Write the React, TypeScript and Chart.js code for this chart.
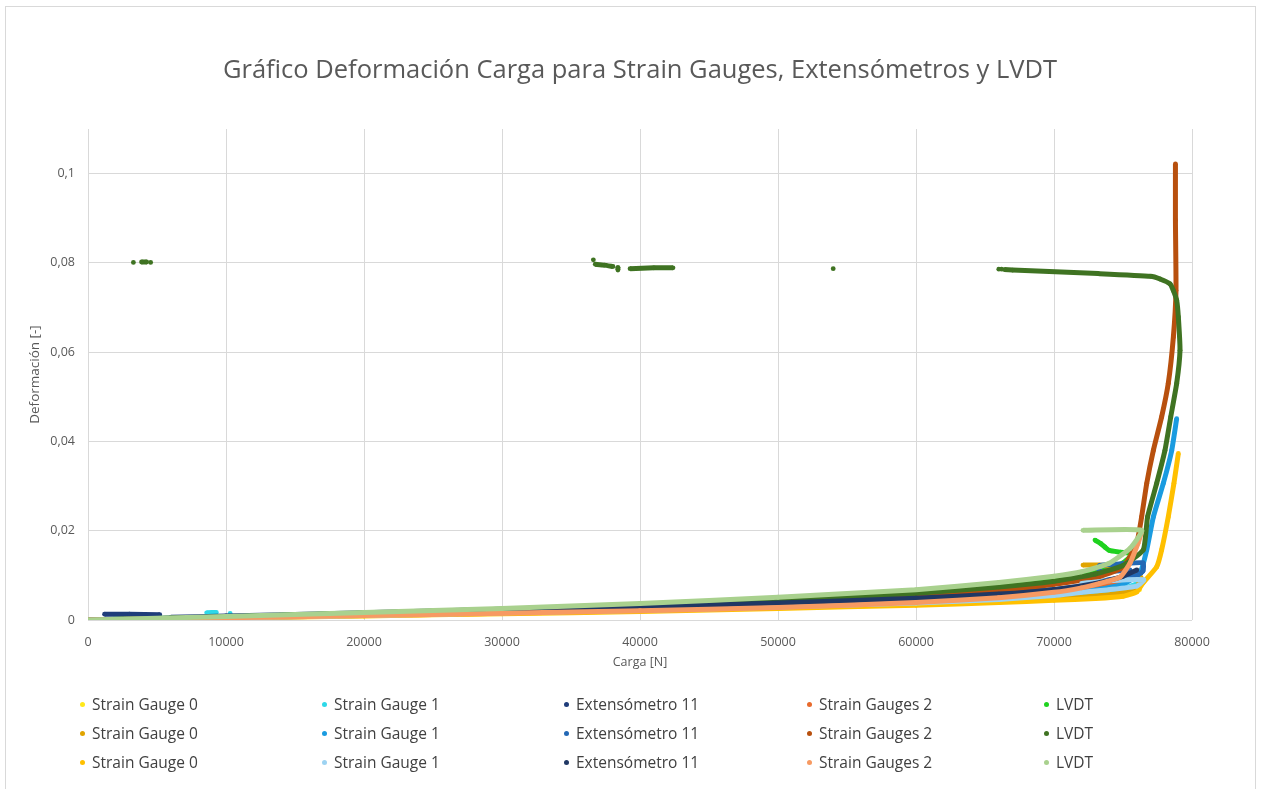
import React, { useEffect, useRef } from "react";
import { Chart, registerables } from "chart.js";

Chart.register(...registerables);

type P = [number, number] | null;

const chartTitle = "Gráfico Deformación Carga para Strain Gauges, Extensómetros y LVDT";
const xAxisTitle = "Carga [N]";
const yAxisTitle = "Deformación [-]";

const xTickValues = [0, 10000, 20000, 30000, 40000, 50000, 60000, 70000, 80000];
const yTickValues = [0, 0.02, 0.04, 0.06, 0.08, 0.1];

const seriesNames = [
  "Strain Gauge 0", "Strain Gauge 1", "Extensómetro 11", "Strain Gauges 2", "LVDT",
  "Strain Gauge 0", "Strain Gauge 1", "Extensómetro 11", "Strain Gauges 2", "LVDT",
  "Strain Gauge 0", "Strain Gauge 1", "Extensómetro 11", "Strain Gauges 2", "LVDT",
];

const seriesColors = [
  "#FFE81A", "#2ED8E8", "#1F3D7A", "#E86A2C", "#1FD21F",
  "#E0A400", "#1A9BE0", "#2368B5", "#B8500E", "#3F7322",
  "#FFC000", "#9DD3F2", "#203864", "#F79A62", "#A9D18E",
];

const strainGauge0A: P[] = [[0, 0], [10000, 0.0005], [20000, 0.0011], [30000, 0.0016], [40000, 0.0022], [50000, 0.0029], [60000, 0.0036], [66000, 0.0042], [70000, 0.0047], [73000, 0.0052], [75000, 0.0058], [76200, 0.0068]];
const strainGauge1A: P[] = [[0, 0], [5000, 0.0003], [8000, 0.0005], null, [8600, 0.0016], [9000, 0.0017], [9300, 0.0017], null, [10300, 0.0015], null, [11000, 0.0007], [20000, 0.0012], [30000, 0.0017], [40000, 0.0023], [50000, 0.003], [60000, 0.0038], [66000, 0.0045], [70000, 0.0052], [73000, 0.006], [75000, 0.007], [76400, 0.0085]];
const extensometro11A: P[] = [[0, 0], null, [1200, 0.0013], [3000, 0.0013], [5200, 0.0012], null, [6000, 0.0006], [10000, 0.0009], [20000, 0.0016], [30000, 0.0024], [40000, 0.0032], [50000, 0.0041], [60000, 0.0051], [66000, 0.006], [70000, 0.0068], [73000, 0.0078], [75000, 0.009], [76300, 0.0105]];
const strainGauges2A: P[] = [[0, 0], [10000, 0.0006], [20000, 0.0012], [30000, 0.0019], [40000, 0.0026], [50000, 0.0035], [60000, 0.0046], [66000, 0.0055], [70000, 0.0064], [73000, 0.0075], [75000, 0.009], [76200, 0.011]];
const lvdtA: P[] = [[0, 0], [10000, 0.0007], [20000, 0.0015], [30000, 0.0024], [40000, 0.0034], [50000, 0.0046], [60000, 0.0062], [66000, 0.0076], [70000, 0.0089], [72000, 0.0099], [74000, 0.0115], [75000, 0.0128], [75700, 0.0148], [74800, 0.0152], [74000, 0.0156], [73700, 0.0163], [73400, 0.0171], [72970, 0.0179]];

const strainGauge0B: P[] = [[0, 0], [10000, 0.0005], [20000, 0.001], [30000, 0.0015], [40000, 0.0021], [50000, 0.0028], [60000, 0.0035], [66000, 0.0041], [70000, 0.0047], [73000, 0.0054], [75000, 0.0062], [76000, 0.0075], [76300, 0.0095], [75000, 0.0115], [73300, 0.0123], [72100, 0.0123]];
const strainGauge1B: P[] = [[0, 0], [10000, 0.0005], [20000, 0.0011], [30000, 0.0017], [40000, 0.0024], [50000, 0.0032], [60000, 0.0041], [66000, 0.0049], [70000, 0.0057], [73000, 0.0067], [75000, 0.008], [76230, 0.0105], [76720, 0.0157], [77200, 0.0231], [77920, 0.0306], [78530, 0.038], [78890, 0.0451]];
const extensometro11B: P[] = [[0, 0], [10000, 0.0007], [20000, 0.0014], [30000, 0.0022], [40000, 0.0029], [50000, 0.0038], [60000, 0.0048], [66000, 0.0058], [70000, 0.0068], [72000, 0.0076], [74000, 0.009], [76000, 0.01], [76450, 0.011], [76450, 0.0128], [75000, 0.0126], [73300, 0.0122], [73300, 0.0108], [75500, 0.0112]];
const strainGauges2B: P[] = [[0, 0], [10000, 0.0006], [20000, 0.0013], [30000, 0.002], [40000, 0.0028], [50000, 0.0039], [60000, 0.0053], [66000, 0.0066], [70000, 0.008], [73000, 0.0095], [75000, 0.0118], [75990, 0.0172], [76350, 0.0231], [76720, 0.0306], [77200, 0.038], [77800, 0.0455], [78280, 0.053], [78650, 0.0634], [78840, 0.0738], [78800, 0.0895], [78800, 0.1022]];
const lvdtB: P[] = [[0, 0], [10000, 0.0007], [20000, 0.0015], [30000, 0.0023], [40000, 0.0032], [50000, 0.0044], [60000, 0.006], [66000, 0.0074], [70000, 0.0087], [73000, 0.0103], [75000, 0.0122], [76470, 0.0157], [76780, 0.0231], [77440, 0.0306], [78040, 0.038], [78460, 0.0455], [78890, 0.053], [79130, 0.0604], [79010, 0.0679], [78890, 0.0716], [78650, 0.0738], [78410, 0.0753], [77680, 0.0764], [77000, 0.077], [73200, 0.0776], [67000, 0.0784], [66400, 0.0785], null, [66200, 0.0786], null, [66000, 0.0786], null, [54000, 0.0787], null, [42390, 0.0789], [41000, 0.0789], [39280, 0.0787], null, [38400, 0.0784], [38400, 0.079], null, [38040, 0.0792], [37400, 0.0795], [36760, 0.0797], null, [36620, 0.0807], null, [4540, 0.0801], null, [4250, 0.0802], [3880, 0.0802], null, [3290, 0.0801]];

const strainGauge0C: P[] = [[0, 0], [10000, 0.0004], [20000, 0.0009], [30000, 0.0014], [40000, 0.0019], [50000, 0.0026], [60000, 0.0033], [66000, 0.0039], [70000, 0.0044], [73000, 0.0048], [75000, 0.0053], [76000, 0.0063], [76450, 0.0083], [77440, 0.0119], [77800, 0.0157], [78280, 0.0231], [78690, 0.0306], [79010, 0.0373]];
const strainGauge1C: P[] = [[0, 0], [10000, 0.0005], [20000, 0.001], [30000, 0.0016], [40000, 0.0022], [50000, 0.0029], [60000, 0.0038], [66000, 0.0046], [70000, 0.0055], [72000, 0.0062], [74000, 0.0068], [76000, 0.0076], [76500, 0.009], [74000, 0.0088], [72000, 0.0082]];
const extensometro11C: P[] = [[0, 0], [10000, 0.0007], [20000, 0.0014], [30000, 0.0021], [40000, 0.0029], [50000, 0.0038], [60000, 0.0049], [66000, 0.0058], [70000, 0.0068], [73000, 0.0082], [75000, 0.0098], [76000, 0.0112]];
const strainGauges2C: P[] = [[0, 0], [10000, 0.0005], [20000, 0.001], [30000, 0.0015], [40000, 0.0021], [50000, 0.0028], [60000, 0.0039], [66000, 0.005], [70000, 0.0062], [72000, 0.0072], [73330, 0.0082], [74780, 0.0096], [75500, 0.0127], [76090, 0.0172], [76350, 0.0198]];
const lvdtC: P[] = [[0, 0], [10000, 0.0008], [20000, 0.0017], [30000, 0.0026], [40000, 0.0037], [50000, 0.0051], [60000, 0.0068], [66000, 0.0084], [70000, 0.0098], [72000, 0.0108], [74000, 0.0127], [75500, 0.016], [76350, 0.0201], [72100, 0.0201]];

const seriesData: P[][] = [
  strainGauge0A, strainGauge1A, extensometro11A, strainGauges2A, lvdtA,
  strainGauge0B, strainGauge1B, extensometro11B, strainGauges2B, lvdtB,
  strainGauge0C, strainGauge1C, extensometro11C, strainGauges2C, lvdtC,
];

const W = 1261;
const H = 789;
const FONT = "'Open Sans', 'Noto Sans', sans-serif";
const TEXT = "#595959";
const GRID = "#d9d9d9";

const legendCols = [80, 322, 564, 807, 1044];
const legendRows = [704, 733, 762];

export default function App() {
  const ref = useRef<HTMLCanvasElement | null>(null);

  useEffect(() => {
    if (!ref.current) return;
    const datasets = seriesData.map((pts, i) => ({
      label: seriesNames[i],
      data: pts.map((p) => (p ? { x: p[0], y: p[1] } : { x: null as any, y: null as any })),
      showLine: true,
      spanGaps: false,
      borderColor: seriesColors[i],
      backgroundColor: seriesColors[i],
      borderWidth: 5,
      pointRadius: 2.4,
      pointBorderWidth: 0,
      pointHoverRadius: 0,
      tension: 0.15,
      order: 100 - i,
    }));
    const chart = new Chart(ref.current, {
      type: "scatter",
      data: { datasets },
      options: {
        animation: false,
        responsive: false,
        devicePixelRatio: 1,
        layout: { padding: { left: 0, right: W - 1192, top: 0, bottom: H - 620 - 60 } },
        plugins: {
          legend: { display: false },
          tooltip: { enabled: false },
          title: {
            display: true,
            fullSize: false,
            text: chartTitle,
            color: TEXT,
            font: { family: FONT, size: 25.5, weight: "normal" as any, lineHeight: 1.2 },
            padding: { top: 55, bottom: 129 - 55 - 30.6 },
          },
        },
        scales: {
          x: {
            type: "linear",
            min: 0,
            max: 80000,
            afterBuildTicks: (s: any) => {
              s.ticks = xTickValues.map((v) => ({ value: v }));
            },
            afterFit: (s: any) => {
              s.height = 60;
            },
            ticks: {
              color: TEXT,
              font: { family: FONT, size: 12.5 },
              padding: 15,
              maxRotation: 0,
              callback: (v: any) => String(v),
            },
            grid: { color: GRID, lineWidth: 1, drawTicks: false },
            border: { display: false },
            title: {
              display: true,
              text: xAxisTitle,
              color: TEXT,
              font: { family: FONT, size: 12.5 },
              padding: { top: 4, bottom: 10 },
            },
          },
          y: {
            type: "linear",
            min: 0,
            max: 0.11,
            afterBuildTicks: (s: any) => {
              s.ticks = yTickValues.map((v) => ({ value: v }));
            },
            afterFit: (s: any) => {
              s.width = 88;
            },
            ticks: {
              color: TEXT,
              font: { family: FONT, size: 12.5 },
              padding: 13,
              callback: (v: any) => (v === 0 ? "0" : String(+Number(v).toFixed(3)).replace(".", ",")),
            },
            grid: { color: GRID, lineWidth: 1, drawTicks: false },
            border: { display: false },
            title: {
              display: true,
              text: yAxisTitle,
              color: TEXT,
              font: { family: FONT, size: 13.5 },
              padding: { top: 27, bottom: 4 },
            },
          },
        },
      },
    });
    return () => chart.destroy();
  }, []);

  return (
    <div style={{ position: "fixed", left: 0, top: 0, width: W, height: H, background: "#fff", overflow: "hidden" }}>
      <div style={{ position: "absolute", left: 5, top: 6, width: 1251, height: 820, border: "1px solid #d9d9d9", boxSizing: "border-box" }} />
      <canvas ref={ref} width={W} height={H} style={{ position: "absolute", left: 0, top: 0, width: W, height: H }} />
      {seriesNames.map((name, i) => {
        const col = i % 5;
        const row = Math.floor(i / 5);
        return (
          <div
            key={i}
            style={{
              position: "absolute",
              left: legendCols[col],
              top: legendRows[row] - 11,
              height: 22,
              display: "flex",
              alignItems: "center",
              fontFamily: FONT,
              fontSize: 15.5,
              color: "#404040",
              whiteSpace: "nowrap",
            }}
          >
            <span style={{ display: "inline-block", width: 5, height: 5, borderRadius: "50%", background: seriesColors[i], marginRight: 7 }} />
            <span>{name}</span>
          </div>
        );
      })}
    </div>
  );
}
